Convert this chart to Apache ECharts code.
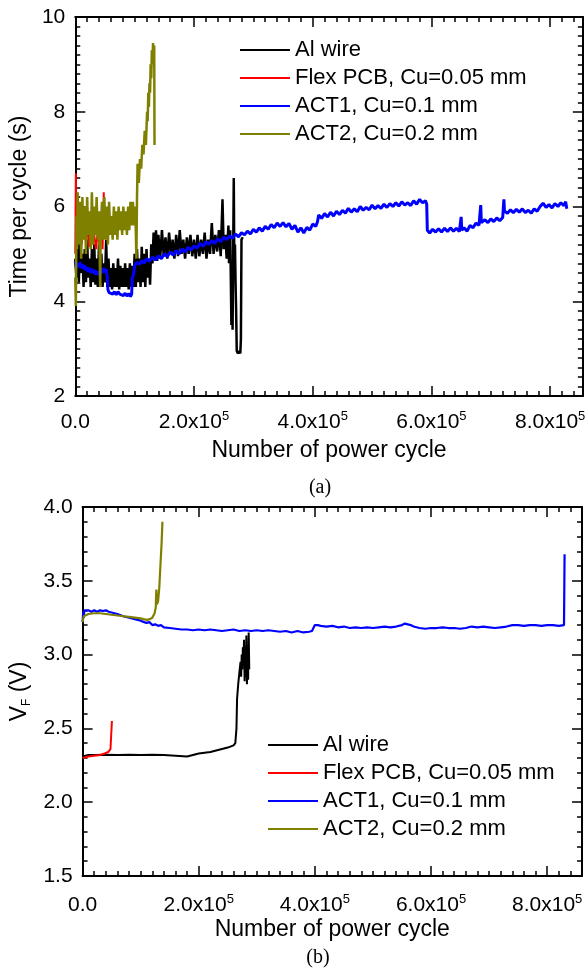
<!DOCTYPE html>
<html>
<head>
<meta charset="utf-8">
<script src="https://cdn.jsdelivr.net/npm/echarts@6/dist/echarts.min.js"></script>
<style>html,body{margin:0;padding:0;background:#fff}#c{width:588px;height:971px}</style>
</head>
<body>
<div id="c"></div>
<script>
// ---------- DATA ----------
var seriesNames = ['Al wire', 'Flex PCB, Cu=0.05 mm', 'ACT1, Cu=0.1 mm', 'ACT2, Cu=0.2 mm'];
var seriesColors = ['#000000', '#ff0000', '#0000ff', '#808000'];
var xTicksA = [0, 200000, 400000, 600000, 800000];
var xTicksB = [0, 200000, 400000, 600000, 800000];
var yTicksA = [2, 4, 6, 8, 10];
var yTicksB = [1.5, 2.0, 2.5, 3.0, 3.5, 4.0];

// (a) Time per cycle (s)
var alWireA = [[0,4.9],[2000,4.5],[4000,5.2],[6000,4.4],[8000,5.3],[10000,4.6],[12000,5.0],[14000,4.3],[16000,5.1],[18000,4.4],[20000,5.3],[22000,4.5],[24000,4.9],[26000,4.3],[28000,5.1],[30000,4.4],[32000,5.2],[34000,4.35],[36000,4.9],[38000,4.3],[40000,5.2],[42000,4.4],[44000,5.0],[46000,4.3],[48000,4.8],[50000,4.4],[52000,5.3],[54000,4.3],[56000,4.9],[58000,4.3],[60000,4.7],[62000,4.25],[64000,4.8],[66000,4.3],[68000,4.7],[70000,4.3],[72000,4.9],[74000,4.25],[76000,4.75],[78000,4.3],[80000,4.7],[82000,4.3],[84000,4.8],[86000,4.3],[88000,4.7],[90000,4.25],[92000,4.8],[94000,4.3],[96000,4.75],[98000,4.3],[100000,5.0],[102000,4.3],[104000,5.1],[106000,4.4],[108000,4.9],[110000,4.3],[112000,5.15],[114000,4.4],[116000,5.0],[118000,4.3],[120000,5.1],[122000,4.5],[124000,4.9],[126000,4.35],[128000,5.2],[130000,4.8],[132000,5.45],[134000,4.9],[136000,5.5],[138000,4.85],[140000,5.4],[143000,4.9],[146000,5.5],[149000,4.95],[152000,5.35],[155000,4.9],[158000,5.45],[161000,5.0],[164000,5.3],[167000,4.9],[170000,5.4],[173000,4.95],[176000,5.5],[179000,5.0],[182000,5.3],[185000,4.9],[188000,5.35],[191000,5.0],[194000,5.4],[197000,4.95],[200000,5.3],[203000,4.9],[206000,5.4],[209000,4.95],[212000,5.3],[215000,5.0],[218000,5.45],[221000,4.9],[224000,5.3],[227000,5.0],[230000,5.65],[233000,5.0],[236000,5.4],[239000,5.05],[242000,5.5],[245000,4.95],[248000,6.15],[250000,5.1],[253000,5.4],[255000,4.9],[258000,5.6],[259000,4.8],[261000,5.5],[262000,4.5],[263000,3.5],[264000,4.8],[265000,3.4],[266000,5.0],[267000,6.6],[268000,4.6],[269000,5.2],[270000,4.4],[271000,3.8],[272000,2.95],[274000,2.9],[276000,2.95],[278000,2.9],[279000,3.2],[280000,5.3],[282000,5.35]];
var flexA = [[0,5.0],[1000,6.7],[2000,5.5],[3000,6.2],[5000,5.3],[8000,5.8],[11000,5.2],[14000,5.7],[17000,5.3],[20000,5.6],[23000,5.15],[26000,5.5],[29000,5.2],[32000,5.4],[35000,5.1],[38000,5.5],[41000,5.15],[44000,5.4],[46000,5.1],[48000,6.3],[49000,5.4],[50000,5.5]];
var act1A = [[0,4.85],[2000,4.7],[4000,4.8],[6000,4.72],[8000,4.82],[10000,4.7],[12000,4.78],[14000,4.68],[16000,4.76],[18000,4.65],[20000,4.72],[22000,4.62],[24000,4.7],[26000,4.6],[28000,4.68],[30000,4.6],[32000,4.66],[34000,4.56],[36000,4.64],[38000,4.56],[40000,4.62],[42000,4.55],[44000,4.7],[46000,4.6],[48000,4.7],[50000,4.62],[52000,4.68],[54000,4.5],[55000,4.25],[57000,4.18],[60000,4.22],[63000,4.15],[66000,4.2],[69000,4.14],[72000,4.2],[75000,4.15],[78000,4.18],[81000,4.12],[84000,4.17],[87000,4.11],[90000,4.16],[93000,4.1],[95000,4.15],[96000,4.5],[98000,4.55],[100000,4.75],[104000,4.82],[108000,4.78],[112000,4.86],[116000,4.8],[120000,4.9],[125000,4.84],[130000,4.93],[135000,4.87],[140000,4.96],[145000,4.9],[150000,5.0],[155000,4.94],[160000,5.04],[165000,4.97],[170000,5.07],[175000,5.0],[180000,5.1],[185000,5.04],[190000,5.14],[195000,5.08],[200000,5.17],[205000,5.12],[210000,5.22],[215000,5.16],[220000,5.25],[225000,5.2],[230000,5.28],[235000,5.22],[240000,5.32],[245000,5.26],[250000,5.35],[255000,5.3],[260000,5.38],[265000,5.33],[270000,5.42],[275000,5.36],[280000,5.45],[285000,5.4],[290000,5.48],[295000,5.42],[300000,5.52],[305000,5.46],[310000,5.55],[315000,5.48],[320000,5.58],[325000,5.52],[330000,5.62],[335000,5.55],[340000,5.65],[345000,5.58],[350000,5.66],[355000,5.57],[360000,5.64],[365000,5.52],[370000,5.6],[375000,5.46],[380000,5.55],[385000,5.44],[390000,5.56],[395000,5.5],[400000,5.63],[405000,5.58],[408000,5.68],[410000,5.82],[415000,5.75],[420000,5.85],[425000,5.78],[430000,5.88],[435000,5.8],[440000,5.9],[445000,5.83],[450000,5.92],[455000,5.86],[460000,5.96],[465000,5.88],[470000,5.95],[475000,5.89],[480000,6.0],[485000,5.92],[490000,5.98],[495000,5.93],[500000,6.03],[505000,5.95],[510000,6.02],[515000,5.96],[520000,6.05],[525000,5.98],[530000,6.06],[535000,6.0],[540000,6.08],[545000,6.01],[550000,6.1],[555000,6.03],[560000,6.08],[565000,6.02],[570000,6.12],[575000,6.05],[580000,6.15],[585000,6.08],[590000,6.12],[592000,6.05],[593000,5.5],[597000,5.44],[602000,5.52],[607000,5.46],[612000,5.53],[617000,5.46],[622000,5.54],[627000,5.47],[632000,5.55],[637000,5.48],[642000,5.54],[647000,5.47],[650000,5.78],[651000,5.5],[655000,5.55],[660000,5.48],[665000,5.6],[670000,5.55],[675000,5.65],[680000,5.6],[683000,6.03],[684000,5.66],[690000,5.72],[695000,5.66],[700000,5.74],[705000,5.68],[710000,5.76],[715000,5.7],[720000,5.77],[722000,6.15],[723000,5.9],[728000,5.86],[733000,5.93],[738000,5.87],[743000,5.94],[748000,5.88],[753000,5.95],[758000,5.87],[763000,5.92],[768000,5.86],[773000,5.95],[778000,5.9],[783000,6.0],[788000,6.07],[793000,5.98],[798000,6.04],[803000,5.97],[808000,6.06],[813000,6.0],[818000,6.08],[823000,6.02],[826000,6.1],[828000,5.95]];
var act2A = [[0,4.5],[1000,3.9],[2000,5.8],[3000,5.1],[4000,6.3],[6000,5.2],[8000,6.1],[10000,4.9],[12000,6.2],[14000,5.3],[16000,6.0],[18000,5.0],[20000,6.2],[22000,5.4],[24000,5.9],[26000,5.1],[28000,6.3],[30000,5.2],[32000,6.0],[34000,5.4],[36000,6.2],[38000,5.3],[40000,5.9],[42000,4.3],[43000,5.5],[45000,6.1],[47000,5.3],[49000,6.2],[51000,5.3],[53000,6.0],[55000,5.2],[57000,6.1],[59000,5.4],[61000,5.8],[63000,5.3],[65000,6.0],[67000,5.4],[69000,5.9],[71000,5.3],[73000,6.0],[75000,5.5],[77000,5.9],[79000,5.4],[81000,6.0],[83000,5.5],[85000,5.9],[87000,5.4],[89000,6.0],[91000,5.5],[93000,6.1],[95000,5.6],[97000,6.1],[99000,5.6],[101000,6.0],[103000,4.9],[104000,6.2],[105000,6.9],[107000,6.5],[109000,7.0],[111000,6.8],[113000,7.3],[115000,7.1],[117000,7.6],[119000,7.3],[121000,8.0],[122000,7.8],[123000,8.4],[124000,8.1],[125000,8.6],[126000,8.4],[127000,9.0],[128000,8.7],[129000,9.3],[130000,9.0],[131000,9.45],[132000,9.2],[133000,9.4],[133500,7.3]];

// (b) V_F (V)
var alWireB = [[0,2.31],[10000,2.32],[20000,2.32],[40000,2.322],[60000,2.32],[80000,2.322],[100000,2.32],[120000,2.321],[140000,2.32],[160000,2.315],[180000,2.31],[190000,2.32],[200000,2.33],[210000,2.335],[220000,2.34],[230000,2.35],[240000,2.36],[250000,2.37],[260000,2.385],[263000,2.4],[265000,2.5],[266000,2.7],[268000,2.8],[270000,2.88],[272000,2.95],[273000,2.85],[274000,3.0],[275000,2.9],[276000,3.05],[277000,2.95],[278000,3.1],[279000,2.82],[280000,3.05],[281000,2.85],[282000,3.13],[283000,2.8],[284000,3.0],[285000,2.83],[286000,3.15],[287000,2.9]];
var flexB = [[0,2.30],[5000,2.305],[10000,2.31],[20000,2.315],[30000,2.32],[38000,2.33],[44000,2.34],[48000,2.36],[50000,2.37],[50500,2.55]];
var act1B = [[0,3.22],[1000,3.29],[2000,3.25],[3000,3.3],[5000,3.29],[10000,3.3],[15000,3.29],[20000,3.3],[25000,3.29],[30000,3.3],[35000,3.295],[40000,3.3],[45000,3.29],[50000,3.285],[55000,3.28],[60000,3.275],[70000,3.26],[80000,3.25],[90000,3.24],[100000,3.23],[106000,3.22],[110000,3.215],[115000,3.22],[120000,3.2],[125000,3.205],[130000,3.195],[135000,3.2],[140000,3.185],[150000,3.18],[160000,3.175],[170000,3.17],[180000,3.17],[190000,3.165],[200000,3.17],[210000,3.165],[220000,3.17],[230000,3.165],[240000,3.16],[250000,3.165],[260000,3.17],[270000,3.16],[280000,3.165],[290000,3.16],[300000,3.165],[310000,3.16],[320000,3.165],[330000,3.16],[340000,3.155],[350000,3.16],[360000,3.15],[370000,3.16],[380000,3.15],[390000,3.155],[395000,3.16],[400000,3.2],[405000,3.2],[410000,3.195],[420000,3.19],[430000,3.195],[440000,3.185],[450000,3.19],[460000,3.18],[470000,3.185],[480000,3.18],[490000,3.185],[500000,3.18],[510000,3.185],[520000,3.19],[530000,3.185],[540000,3.19],[550000,3.2],[555000,3.21],[560000,3.205],[565000,3.2],[570000,3.19],[580000,3.18],[590000,3.175],[600000,3.18],[610000,3.18],[620000,3.185],[630000,3.18],[640000,3.18],[650000,3.175],[660000,3.18],[670000,3.19],[680000,3.185],[690000,3.19],[700000,3.185],[710000,3.18],[720000,3.185],[730000,3.19],[740000,3.2],[750000,3.2],[760000,3.195],[770000,3.2],[780000,3.2],[790000,3.195],[800000,3.2],[810000,3.2],[820000,3.195],[829000,3.2],[830000,3.68]];
var act2B = [[0,3.22],[2000,3.26],[5000,3.27],[10000,3.275],[20000,3.28],[30000,3.28],[40000,3.275],[50000,3.27],[60000,3.265],[70000,3.26],[80000,3.255],[90000,3.25],[100000,3.245],[105000,3.24],[111000,3.235],[116000,3.24],[120000,3.25],[124000,3.28],[126000,3.32],[127000,3.44],[128000,3.34],[130000,3.36],[132000,3.45],[134000,3.6],[136000,3.75],[137500,3.9]];

// ---------- CHART ----------
// The y axes run in tenths of the plotted unit so every tick value is an integer.
var YS = 10;
var FONT = 'Liberation Sans, Arial, sans-serif';
var SERIF = 'Liberation Serif, Times New Roman, serif';
var chart = echarts.init(document.getElementById('c'));

var X_MAX = [855000, 860000];
var Y_MIN = [yTicksA[0] * YS, yTicksB[0] * YS];
var Y_MAX = [yTicksA[yTicksA.length - 1] * YS, yTicksB[yTicksB.length - 1] * YS];
var Y_INT = [(yTicksA[1] - yTicksA[0]) * YS, Math.round((yTicksB[1] - yTicksB[0]) * YS)];
var Y_MINOR = [10, 5];

function xFmt(v) {
  if (v === 0) return '0.0';
  return '{n|' + (v / 100000).toFixed(1) + 'x10}{s|5}';
}
function scaled(d) { return d.map(function (p) { return [p[0], p[1] * YS]; }); }

function ax(g, pos, extra) {
  var isX = pos === 'bottom' || pos === 'top';
  var o = {
    type: 'value', gridIndex: g, position: pos,
    min: isX ? 0 : Y_MIN[g], max: isX ? X_MAX[g] : Y_MAX[g], interval: isX ? 200000 : Y_INT[g],
    axisLine: {show: true, onZero: false, lineStyle: {color: '#000', width: 2}},
    axisTick: {show: true, inside: true, length: 10, lineStyle: {color: '#000', width: 1.5}},
    minorTick: {show: true, splitNumber: isX ? 10 : Y_MINOR[g], length: 5, lineStyle: {color: '#000', width: 1.5}},
    splitLine: {show: false},
    axisLabel: {show: false}
  };
  if (extra) for (var k in extra) o[k] = extra[k];
  return o;
}
function xLabel(margin) {
  return {show: true, formatter: xFmt, color: '#000', fontSize: 21, fontFamily: FONT, lineHeight: 24,
    margin: margin, showMaxLabel: false,
    rich: {n: {fontSize: 21, fontFamily: FONT, color: '#000', lineHeight: 24},
           s: {fontSize: 13, fontFamily: FONT, color: '#000', lineHeight: 12, verticalAlign: 'top'}}};
}
var xName = {name: 'Number of power cycle', nameLocation: 'middle',
  nameTextStyle: {fontSize: 23, fontFamily: FONT, color: '#000'}};

var xa = [
  ax(0, 'bottom', Object.assign({axisLabel: xLabel(14), nameGap: 43}, xName)),
  ax(0, 'top'),
  ax(1, 'bottom', Object.assign({axisLabel: xLabel(17), nameGap: 40}, xName)),
  ax(1, 'top')
];
var ya = [
  ax(0, 'left', {axisLabel: {show: true, color: '#000', fontSize: 21, fontFamily: FONT, margin: 10,
      formatter: function (v) { return String(v / YS); }},
    name: 'Time per cycle (s)', nameLocation: 'middle', nameGap: 28,
    nameTextStyle: {fontSize: 23, fontFamily: FONT, color: '#000'}}),
  ax(0, 'right'),
  ax(1, 'left', {axisLabel: {show: true, color: '#000', fontSize: 21, fontFamily: FONT, margin: 10,
      formatter: function (v) { return (v / YS).toFixed(1); }},
    name: '{v|V}{f|F}{v| (V)}', nameLocation: 'middle', nameGap: 41,
    nameTextStyle: {fontSize: 23, fontFamily: FONT, color: '#000',
      rich: {v: {fontSize: 23, fontFamily: FONT, color: '#000', lineHeight: 26},
             f: {fontSize: 12, fontFamily: FONT, color: '#000', lineHeight: 12, verticalAlign: 'bottom'}}}}),
  ax(1, 'right')
];

var dataA = [alWireA, flexA, act1A, act2A];
var dataB = [alWireB, flexB, act1B, act2B];
var widthsA = [2.5, 2, 3, 2.5];
var widthsB = [2, 2, 2.2, 2.2];
var series = [];
dataA.forEach(function (d, i) {
  series.push({type: 'line', name: seriesNames[i], xAxisIndex: 0, yAxisIndex: 0, data: scaled(d),
    showSymbol: false, symbol: 'none', color: seriesColors[i],
    lineStyle: {color: seriesColors[i], width: widthsA[i]}});
});
dataB.forEach(function (d, i) {
  series.push({type: 'line', name: seriesNames[i], xAxisIndex: 2, yAxisIndex: 2, data: scaled(d),
    showSymbol: false, symbol: 'none', color: seriesColors[i],
    lineStyle: {color: seriesColors[i], width: widthsB[i]}});
});

function legend(left, top) {
  return {left: left, top: top, orient: 'vertical', padding: 0, itemWidth: 50, itemHeight: 2, itemGap: 6,
    icon: 'rect', data: seriesNames.slice(), selectedMode: false,
    textStyle: {fontSize: 22, fontFamily: FONT, color: '#000', lineHeight: 21}};
}

chart.setOption({
  animation: false,
  backgroundColor: '#fff',
  grid: [{left: 70, top: 17, width: 513, height: 379}, {left: 78, top: 507, width: 504, height: 369}],
  xAxis: xa,
  yAxis: ya,
  legend: [legend(240, 39), legend(268, 734)],
  series: series,
  graphic: [
    {type: 'text', x: 320, y: 488, style: {text: '(a)', font: '20px ' + SERIF, fill: '#000',
      align: 'center', verticalAlign: 'middle', textAlign: 'center', textVerticalAlign: 'middle'}},
    {type: 'text', x: 318, y: 958, style: {text: '(b)', font: '20px ' + SERIF, fill: '#000',
      align: 'center', verticalAlign: 'middle', textAlign: 'center', textVerticalAlign: 'middle'}}
  ]
});
</script>
</body>
</html>
